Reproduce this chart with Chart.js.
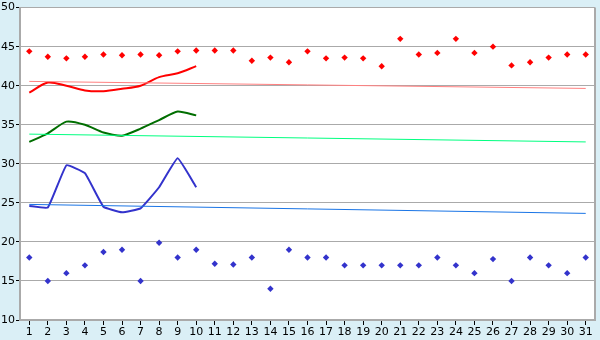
<!DOCTYPE html>
<html>
<head>
<meta charset="utf-8">
<script src="https://cdn.jsdelivr.net/npm/chart.js@4/dist/chart.umd.min.js"></script>
<style>
  html, body { margin: 0; padding: 0; background: #daeff6; }
  #wrap { width: 600px; height: 340px; }
</style>
</head>
<body>
<div id="wrap"><canvas id="chart" width="600" height="340"></canvas></div>
<script>
const days = Array.from({ length: 31 }, (_, i) => String(i + 1));

const redPoints = [44.4, 43.7, 43.5, 43.7, 44.0, 43.9, 44.0, 43.9, 44.4, 44.5,
  44.5, 44.5, 43.2, 43.6, 43.0, 44.4, 43.5, 43.6, 43.5, 42.5,
  46.0, 44.0, 44.2, 46.0, 44.2, 45.0, 42.6, 43.0, 43.6, 44.0, 44.0];
const bluePoints = [18, 15, 16, 17, 18.7, 19, 15, 19.9, 18, 19,
  17.2, 17.1, 18, 14, 19, 18, 18, 17, 17, 17,
  17, 17, 18, 17, 16, 17.8, 15, 18, 17, 16, 18];

const redLine = [39.1, 40.4, 40.0, 39.4, 39.3, 39.6, 40.0, 41.1, 41.6, 42.5];
const greenLine = [32.8, 33.9, 35.4, 35.0, 34.0, 33.6, 34.5, 35.6, 36.7, 36.2];
const blueLine = [24.6, 24.4, 29.8, 28.8, 24.5, 23.8, 24.3, 27.0, 30.7, 27.0];

// trend lines: value at first and last day
const redTrend = [40.55, 39.65];
const greenTrend = [33.8, 32.8];
const blueTrend = [24.8, 23.65];

const yTicks = [10, 15, 20, 25, 30, 35, 40, 45, 50];

function ends(arr) {
  return [{ x: days[0], y: arr[0] }, { x: days[days.length - 1], y: arr[1] }];
}

const bgPlugin = {
  id: 'bg',
  beforeDraw(chart) {
    const { ctx, chartArea: a } = chart;
    ctx.save();
    ctx.fillStyle = '#daeff6';
    ctx.fillRect(0, 0, chart.width, chart.height);
    ctx.fillStyle = '#ffffff';
    ctx.fillRect(a.left, a.top, a.right - a.left, a.bottom - a.top);
    ctx.restore();
  },
  afterDatasetsDraw(chart) {
    const { ctx, chartArea: a } = chart;
    ctx.save();
    ctx.strokeStyle = '#aaaaaa';
    ctx.lineWidth = 2;
    ctx.beginPath();
    ctx.moveTo(a.right, a.top);
    ctx.lineTo(a.right, a.bottom);
    ctx.stroke();
    ctx.restore();
  }
};

const lineDs = (data, color, tension) => ({
  type: 'line', data, borderColor: color, borderWidth: 2,
  pointRadius: 0, fill: false, tension
});
const trendDs = (data, color) => ({
  type: 'line', data: ends(data), borderColor: color, borderWidth: 1,
  pointRadius: 0, fill: false
});
const pointDs = (data, color) => ({
  type: 'line', data, showLine: false, pointStyle: 'rectRot',
  pointRadius: 3.2, pointBackgroundColor: color, pointBorderWidth: 0
});

new Chart(document.getElementById('chart'), {
  type: 'line',
  data: {
    labels: days,
    datasets: [
      trendDs(redTrend, '#ff8080'),
      trendDs(greenTrend, '#00ff80'),
      trendDs(blueTrend, '#1a75e6'),
      lineDs(redLine, '#ff0000', 0.3),
      lineDs(greenLine, '#006e00', 0.2),
      lineDs(blueLine, '#3333cc', 0.1),
      pointDs(redPoints, '#ff0000'),
      pointDs(bluePoints, '#3333cc')
    ]
  },
  plugins: [bgPlugin],
  options: {
    responsive: false,
    animation: false,
    layout: { padding: { top: 5, right: 5, left: 0, bottom: 0 } },
    plugins: { legend: { display: false }, tooltip: { enabled: false } },
    scales: {
      x: {
        offset: true,
        grid: { drawOnChartArea: false, offset: false, tickColor: '#000', tickLength: 5 },
        border: { color: '#aaaaaa', width: 2 },
        ticks: { color: '#000', font: { family: 'DejaVu Sans', size: 11 }, padding: 1, maxRotation: 0, autoSkip: false },
        afterFit(s) { s.height = 20; }
      },
      y: {
        min: 10, max: 50,
        afterBuildTicks(s) { s.ticks = yTicks.map(v => ({ value: v })); },
        grid: { color: '#aaaaaa', lineWidth: 1, tickColor: '#000', tickLength: 4 },
        border: { color: '#aaaaaa', width: 2 },
        ticks: { color: '#000', font: { family: 'DejaVu Sans', size: 11 }, padding: 1 },
        afterFit(s) { s.width = 20; }
      }
    }
  }
});
</script>
</body>
</html>
